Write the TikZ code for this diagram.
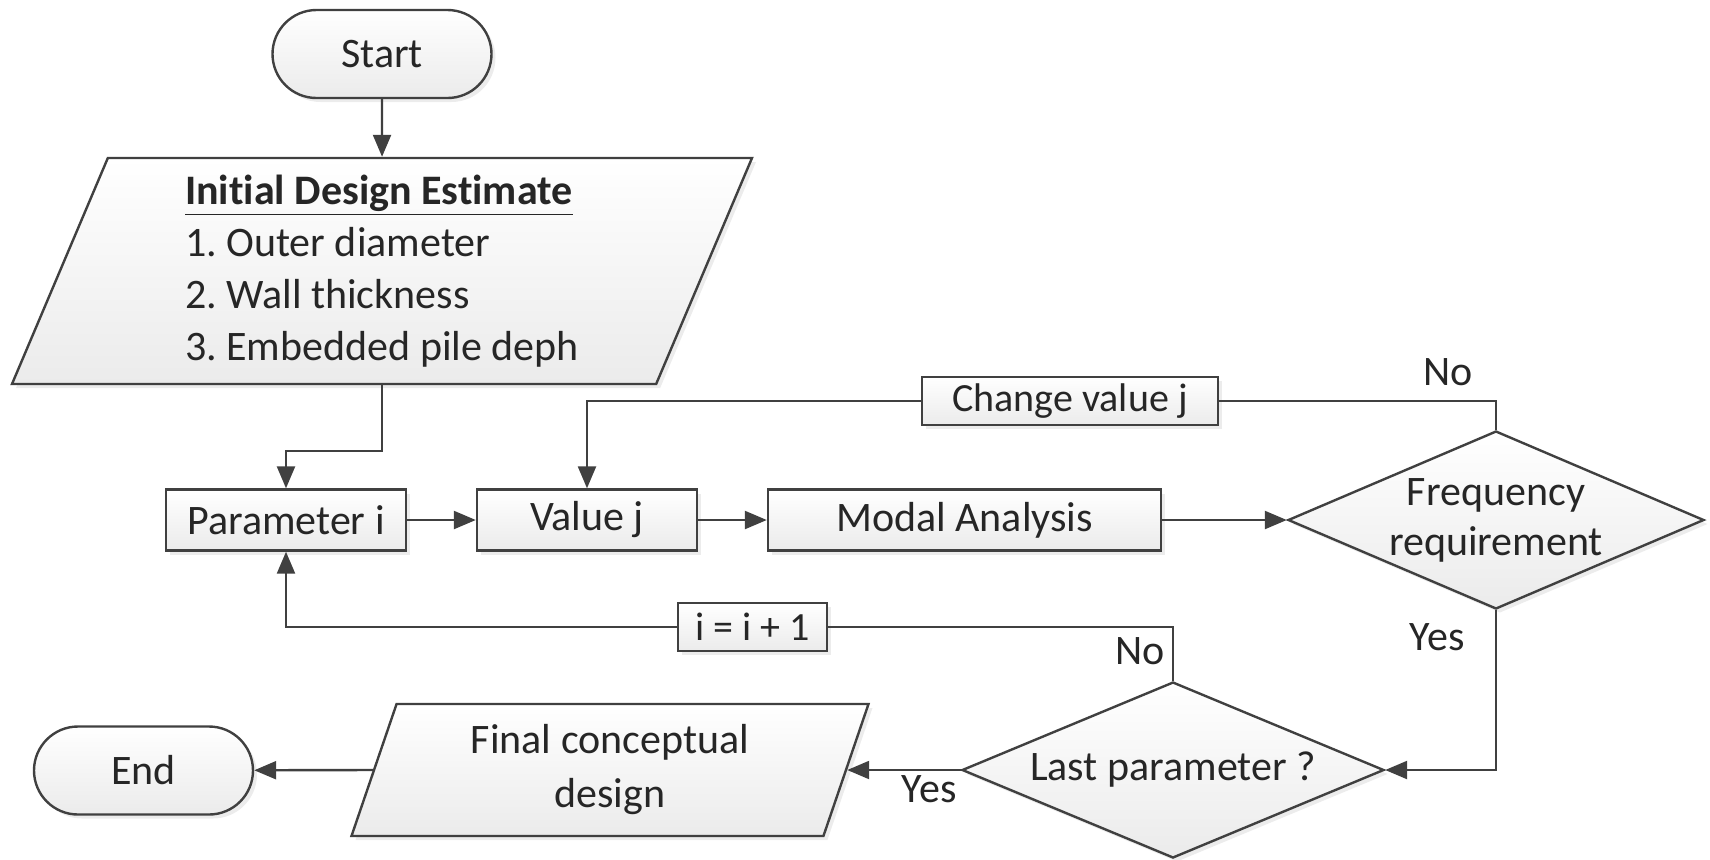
\documentclass[tikz,border=0pt]{standalone}
\usepackage{fontspec}
\setmainfont{Carlito}[Ligatures={NoCommon}]
\usetikzlibrary{shapes.geometric,shapes.misc,arrows.meta,shadows}

\definecolor{linegray}{HTML}{404040}
\definecolor{boxgray}{HTML}{EBEBEB}

\frenchspacing
\begin{document}
\begin{tikzpicture}[x=0.5pt,y=0.5pt,yscale=-1,
    base/.style={draw=linegray, line width=1.2pt, top color=white, bottom color=boxgray,
      drop shadow={opacity=0.15, shadow xshift=2pt, shadow yshift=-2pt},
      text=black!85, font=\fontsize{21}{26}\selectfont, inner sep=0pt},
    terminal/.style={base, rounded rectangle, minimum width=109.5pt, minimum height=44pt},
    process/.style={base, rectangle, minimum height=30.5pt},
    tag/.style={base, rectangle, font=\fontsize{20}{24}\selectfont, minimum height=24pt},
    io/.style={base, trapezium, trapezium left angle=63.5, trapezium right angle=116.5,
      trapezium stretches body},
    decision/.style={base, diamond, aspect=2.37, align=center, font=\fontsize{21}{25}\selectfont},
    lbl/.style={text=black!85, font=\fontsize{21}{26}\selectfont},
    line/.style={draw=linegray, line width=1.2pt},
    arrow/.style={line, -{Triangle[length=11pt,width=9pt]}}]

  \useasboundingbox (0,0) rectangle (1710,859);

  % Nodes
  \node[terminal] (start) at (382,54) {Start};
  \node[io, minimum width=370pt, minimum height=113pt, align=left] (init) at (382,271)
    {\underline{\textbf{Initial Design Estimate}}\\1. Outer diameter\\2. Wall thickness\\3. Embedded pile deph};
  \node[process, minimum width=120pt] (param) at (286,520) {Parameter i};
  \node[process, minimum width=110pt] (value) at (587,520) {Value j};
  \node[process, minimum width=196.5pt] (modal) at (964.5,520) {Modal Analysis};
  \node[decision, minimum width=208pt, minimum height=89pt, inner sep=-3pt] (freq) at (1496,520) {Frequency\\requirement};
  \node[tag, minimum width=148pt] (change) at (1070,401) {Change value j};
  \node[decision, minimum width=211pt, minimum height=88pt] (last) at (1173,770) {Last parameter ?};
  \node[tag, minimum width=74.5pt] (incr) at (752.5,627) {i = i + 1};
  \node[io, minimum width=258.5pt, minimum height=66pt, align=center, font=\fontsize{21}{27}\selectfont] (final) at (610,770)
    {Final conceptual\\design};
  \node[terminal] (end) at (143.5,770.5) {End};

  % Labels
  \node[lbl] (nofreq) at (1448,372) {No};
  \node[lbl] (yesfreq) at (1437,637) {Yes};
  \node[lbl] (nolast) at (1140,651) {No};
  \node[lbl] (yeslast) at (929,789) {Yes};

  % Lines
  \draw[arrow] (start) -- (init);
  \draw[arrow] (init.south) -- ++(0,66) -| (param.north);
  \draw[arrow] (param) -- (value);
  \draw[arrow] (value) -- (modal);
  \draw[arrow] (modal) -- (freq);
  \draw[line] (freq.north) |- (change.east);
  \draw[arrow] (change.west) -| (value.north);
  \draw[arrow] (freq.south) |- (last.east);
  \draw[line] (last.north) |- (incr.east);
  \draw[arrow] (incr.west) -| (param.south);
  \draw[arrow] (last.west) -- (final.right side);
  \draw[arrow] (final.left side) -- (end);

\end{tikzpicture}
\end{document}
